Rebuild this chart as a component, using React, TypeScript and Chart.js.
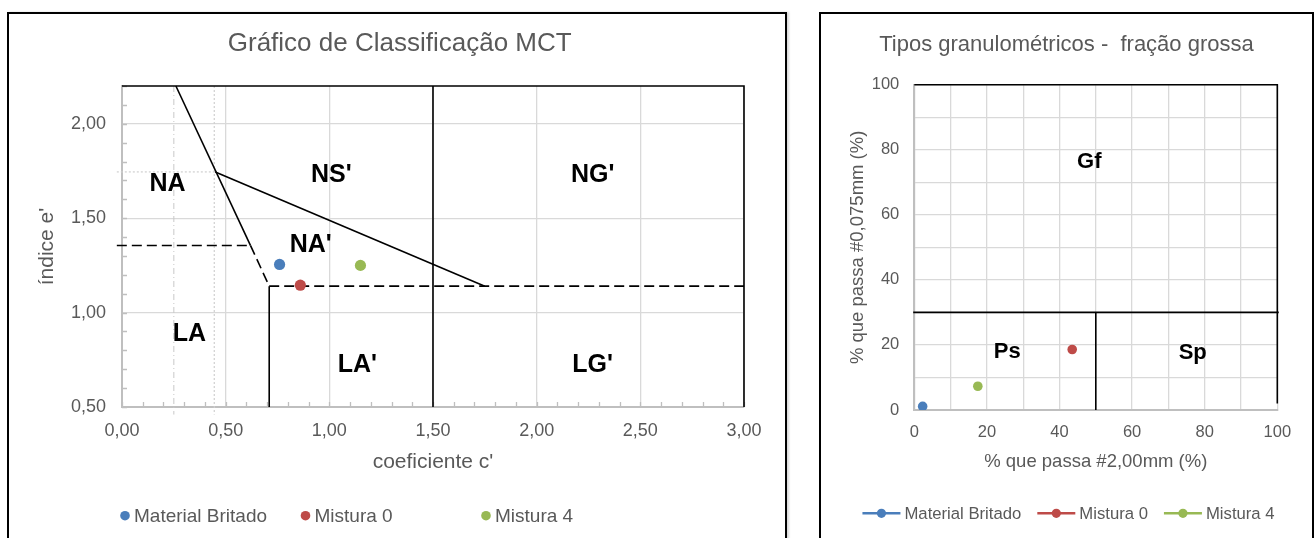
import React, { useEffect, useRef } from "react";
import { Chart, registerables } from "chart.js";

Chart.register(...registerables);

const FONT = "'Liberation Sans', Arial, Helvetica, sans-serif";
const TEXT = "#595959";
const GRID = "#d9d9d9";
const AXIS = "#bfbfbf";
Chart.defaults.font.family = FONT;

// ---------- shared series ----------
const seriesNames = ["Material Britado", "Mistura 0", "Mistura 4"];
const seriesColors = ["#4A7EBB", "#BE4B48", "#98B954"];

// ---------- MCT chart ----------
const mctTitle = "Gráfico de Classificação MCT";
const mctXTitle = "coeficiente c'";
const mctYTitle = "índice e'";
const mctC = [0.76, 0.86, 1.15];
const mctE = [1.255, 1.145, 1.25];
const mctXRange = [0, 3];
const mctYRange = [0.5, 2.2];
const mctStep = 0.5;
const mctMinorStep = 0.1;
const mctZoneNames = ["NA", "NS'", "NG'", "NA'", "LA", "LA'", "LG'"];
const mctZoneC = [0.22, 1.01, 2.27, 0.91, 0.325, 1.135, 2.27];
const mctZoneE = [1.68, 1.73, 1.73, 1.36, 0.885, 0.72, 0.72];
const mctSolidLines = [
  [[0.26, 2.2], [0.62, 1.355]],
  [[0.45, 1.745], [1.75, 1.14]],
  [[1.5, 2.2], [1.5, 0.5]],
  [[0.71, 1.14], [0.71, 0.5]],
  [[0, 2.2], [3, 2.2], [3, 0.5]],
];
const mctDashedLines = [
  [[0.62, 1.355], [0.71, 1.14]],
  [[0.71, 1.14], [3, 1.14]],
  [[-0.025, 1.355], [0.62, 1.355]],
];
const mctGuideDashed = [[[0.25, 2.2], [0.25, 0.46]]];
const mctGuideDotted = [
  [[0.445, 2.2], [0.445, 0.46]],
  [[-0.025, 1.745], [0.45, 1.745]],
];

// ---------- Granulometric chart ----------
const granTitle = "Tipos granulométricos -  fração grossa";
const granXTitle = "% que passa #2,00mm (%)";
const granYTitle = "% que passa #0,075mm (%)";
const granX = [2.3, 43.5, 17.5];
const granY = [1.1, 18.6, 7.3];
const granRange = [0, 100];
const granGridStep = 10;
const granLabelStep = 20;
const granZoneNames = ["Gf", "Ps", "Sp"];
const granZoneX = [48.2, 25.6, 76.7];
const granZoneY = [76.3, 18.0, 17.4];
const granSolidLines = [
  [[-0.3, 30], [100.4, 30]],
  [[50, 30], [50, 0]],
  [[0, 100], [100, 100], [100, 2]],
];

// ---------- helpers ----------
const toPts = (line: number[][]) => line.map(([x, y]) => ({ x, y }));

function lineDataset(line: number[][], color: string, width: number, dash: number[]) {
  return {
    label: "",
    data: toPts(line),
    showLine: true,
    borderColor: color,
    backgroundColor: color,
    borderWidth: width,
    borderDash: dash,
    pointRadius: 0,
    pointHoverRadius: 0,
    fill: false,
    clip: false as any,
    tension: 0,
  };
}

function seriesDatasets(xs: number[], ys: number[], radius: number) {
  return seriesNames.map((name, i) => ({
    label: name,
    data: [{ x: xs[i], y: ys[i] }],
    backgroundColor: seriesColors[i],
    borderColor: seriesColors[i],
    pointRadius: radius,
    pointBorderWidth: 0,
    showLine: false,
  }));
}

const fmtComma = (v: number) => Number(v).toFixed(2).replace(".", ",");

function drawZones(chart: any, names: string[], xs: number[], ys: number[], size: number) {
  const { ctx, scales } = chart;
  ctx.save();
  ctx.font = `bold ${size}px ${FONT}`;
  ctx.fillStyle = "#000";
  ctx.textAlign = "center";
  ctx.textBaseline = "middle";
  names.forEach((n, i) => {
    ctx.fillText(n, scales.x.getPixelForValue(xs[i]), scales.y.getPixelForValue(ys[i]));
  });
  ctx.restore();
}

const mctPlugin = {
  id: "mctExtras",
  beforeDatasetsDraw(chart: any) {
    const { ctx, scales, chartArea } = chart;
    ctx.save();
    ctx.strokeStyle = AXIS;
    ctx.lineWidth = 1.3;
    ctx.beginPath();
    const nx = Math.round((mctXRange[1] - mctXRange[0]) / mctMinorStep);
    for (let i = 0; i <= nx; i++) {
      const px = Math.round(scales.x.getPixelForValue(mctXRange[0] + i * mctMinorStep)) + 0.5;
      ctx.moveTo(px, chartArea.bottom);
      ctx.lineTo(px, chartArea.bottom - 5);
    }
    const ny = Math.round((mctYRange[1] - mctYRange[0]) / mctMinorStep);
    for (let i = 0; i <= ny; i++) {
      const py = Math.round(scales.y.getPixelForValue(mctYRange[0] + i * mctMinorStep)) + 0.5;
      ctx.moveTo(chartArea.left, py);
      ctx.lineTo(chartArea.left + 5, py);
    }
    ctx.stroke();
    ctx.restore();
  },
  afterDraw(chart: any) {
    drawZones(chart, mctZoneNames, mctZoneC, mctZoneE, 25);
    const { ctx, width } = chart;
    ctx.save();
    ctx.font = `19px ${FONT}`;
    ctx.textBaseline = "middle";
    ctx.textAlign = "left";
    const y = 501.7;
    const colW = 180.5;
    const start = width / 2 - 272;
    seriesNames.forEach((n, i) => {
      const cx = start + i * colW;
      ctx.fillStyle = seriesColors[i];
      ctx.beginPath();
      ctx.arc(cx, y, 4.8, 0, Math.PI * 2);
      ctx.fill();
      ctx.fillStyle = TEXT;
      ctx.fillText(n, cx + 9, y + 1);
    });
    ctx.restore();
  },
};

const granPlugin = {
  id: "granExtras",
  afterDraw(chart: any) {
    drawZones(chart, granZoneNames, granZoneX, granZoneY, 22);
    const { ctx, width } = chart;
    ctx.save();
    ctx.font = `16.7px ${FONT}`;
    ctx.textBaseline = "middle";
    ctx.textAlign = "left";
    const y = 499.3;
    const lineW = 38;
    const gapText = 4;
    const gapItem = 16;
    const widths = seriesNames.map((n) => lineW + gapText + ctx.measureText(n).width);
    const total = widths.reduce((a, b) => a + b, 0) + gapItem * (seriesNames.length - 1);
    let x = width / 2 - total / 2 + 2;
    seriesNames.forEach((n, i) => {
      ctx.strokeStyle = seriesColors[i];
      ctx.lineWidth = 2.5;
      ctx.beginPath();
      ctx.moveTo(x, y);
      ctx.lineTo(x + lineW, y);
      ctx.stroke();
      ctx.fillStyle = seriesColors[i];
      ctx.beginPath();
      ctx.arc(x + lineW / 2, y, 4.6, 0, Math.PI * 2);
      ctx.fill();
      ctx.fillStyle = TEXT;
      ctx.fillText(n, x + lineW + gapText, y + 1);
      x += widths[i] + gapItem;
    });
    ctx.restore();
  },
};

function ChartCanvas({ width, height, build }: { width: number; height: number; build: () => any }) {
  const ref = useRef<HTMLCanvasElement | null>(null);
  useEffect(() => {
    if (!ref.current) return;
    const chart = new Chart(ref.current, build());
    return () => chart.destroy();
  }, []);
  return <canvas ref={ref} width={width} height={height} style={{ display: "block", width, height }} />;
}

function buildMct() {
  const datasets: any[] = [
    ...seriesDatasets(mctC, mctE, 5.6),
    ...mctSolidLines.map((l) => lineDataset(l, "#000", 1.6, [])),
    ...mctDashedLines.map((l) => lineDataset(l, "#000", 1.6, [10, 5])),
    ...mctGuideDashed.map((l) => lineDataset(l, "#c8c8c8", 1, [6, 3, 1, 3])),
    ...mctGuideDotted.map((l) => lineDataset(l, "#cfcfcf", 1.2, [2, 2])),
  ];
  return {
    type: "scatter",
    data: { datasets },
    plugins: [mctPlugin],
    options: {
      animation: false,
      responsive: false,
      events: [],
      layout: { padding: { left: 46.4, right: 41, top: 0, bottom: 63.4 } },
      plugins: {
        legend: { display: false },
        tooltip: { enabled: false },
        title: {
          display: true,
          text: mctTitle,
          color: TEXT,
          font: { size: 26, weight: "normal", family: FONT },
          padding: { top: 14.6, bottom: 26.2 },
        },
      },
      scales: {
        x: {
          type: "linear",
          position: "bottom",
          min: mctXRange[0],
          max: mctXRange[1],
          ticks: { stepSize: mctStep, padding: 13, color: TEXT, font: { size: 18 }, callback: (v: any) => fmtComma(v) },
          grid: { color: GRID, lineWidth: 1.3, drawTicks: false },
          border: { color: AXIS, width: 2 },
          title: { display: true, text: mctXTitle, color: TEXT, font: { size: 21 }, padding: { top: 0, bottom: 0 } },
          afterFit: (s: any) => { s.height = 67.6; },
        },
        y: {
          type: "linear",
          position: "left",
          min: mctYRange[0],
          max: mctYRange[1],
          ticks: { stepSize: mctStep, includeBounds: false, padding: 16, color: TEXT, font: { size: 18 }, callback: (v: any) => fmtComma(v) },
          grid: { color: GRID, lineWidth: 1.3, drawTicks: false },
          border: { color: AXIS, width: 2 },
          title: { display: true, text: mctYTitle, color: TEXT, font: { size: 21 }, padding: { top: -21, bottom: 0 } },
          afterFit: (s: any) => { s.width = 66.6; },
        },
      },
    },
  };
}

function buildGran() {
  const datasets: any[] = [
    ...seriesDatasets(granX, granY, 4.8),
    ...granSolidLines.map((l) => lineDataset(l, "#000", 1.6, [])),
  ];
  const tickCb = (v: any) => (Math.round(v) % granLabelStep === 0 ? String(Math.round(v)) : "");
  return {
    type: "scatter",
    data: { datasets },
    plugins: [granPlugin],
    options: {
      animation: false,
      responsive: false,
      events: [],
      layout: { padding: { left: 34.6, right: 34.7, top: 0, bottom: 65.2 } },
      plugins: {
        legend: { display: false },
        tooltip: { enabled: false },
        title: {
          display: true,
          text: granTitle,
          color: TEXT,
          font: { size: 22, weight: "normal", family: FONT },
          padding: { top: 17.5, bottom: 26.8 },
        },
      },
      scales: {
        x: {
          type: "linear",
          position: "bottom",
          min: granRange[0],
          max: granRange[1],
          ticks: { stepSize: granGridStep, padding: 12.1, color: TEXT, font: { size: 16.5 }, callback: tickCb, autoSkip: false, maxRotation: 0 },
          grid: { color: GRID, lineWidth: 1.3, drawTicks: false },
          border: { color: AXIS, width: 2 },
          title: { display: true, text: granXTitle, color: TEXT, font: { size: 18.5 }, padding: { top: 0, bottom: 0 } },
          afterFit: (s: any) => { s.height = 62.8; },
        },
        y: {
          type: "linear",
          position: "left",
          min: granRange[0],
          max: granRange[1],
          ticks: { stepSize: granGridStep, padding: 15, color: TEXT, font: { size: 16.5 }, callback: tickCb, autoSkip: false },
          grid: { color: GRID, lineWidth: 1.3, drawTicks: false },
          border: { color: AXIS, width: 2 },
          title: { display: true, text: granYTitle, color: TEXT, font: { size: 18.5 }, padding: { top: -9.2, bottom: 0 } },
          afterFit: (s: any) => { s.width = 58.7; },
        },
      },
    },
  };
}

export default function App() {
  return (
    <div style={{ position: "fixed", left: 0, top: 0, width: 1314, height: 538, overflow: "hidden", background: "#fff" }}>
      <div style={{ position: "absolute", left: 7, top: 12, width: 776, height: 540, border: "2px solid #000", boxShadow: "2px 0 2px rgba(0,0,0,0.15)" }}>
        <ChartCanvas width={776} height={524} build={buildMct} />
      </div>
      <div style={{ position: "absolute", left: 819, top: 12, width: 491, height: 540, border: "2px solid #000" }}>
        <ChartCanvas width={491} height={524} build={buildGran} />
      </div>
    </div>
  );
}
